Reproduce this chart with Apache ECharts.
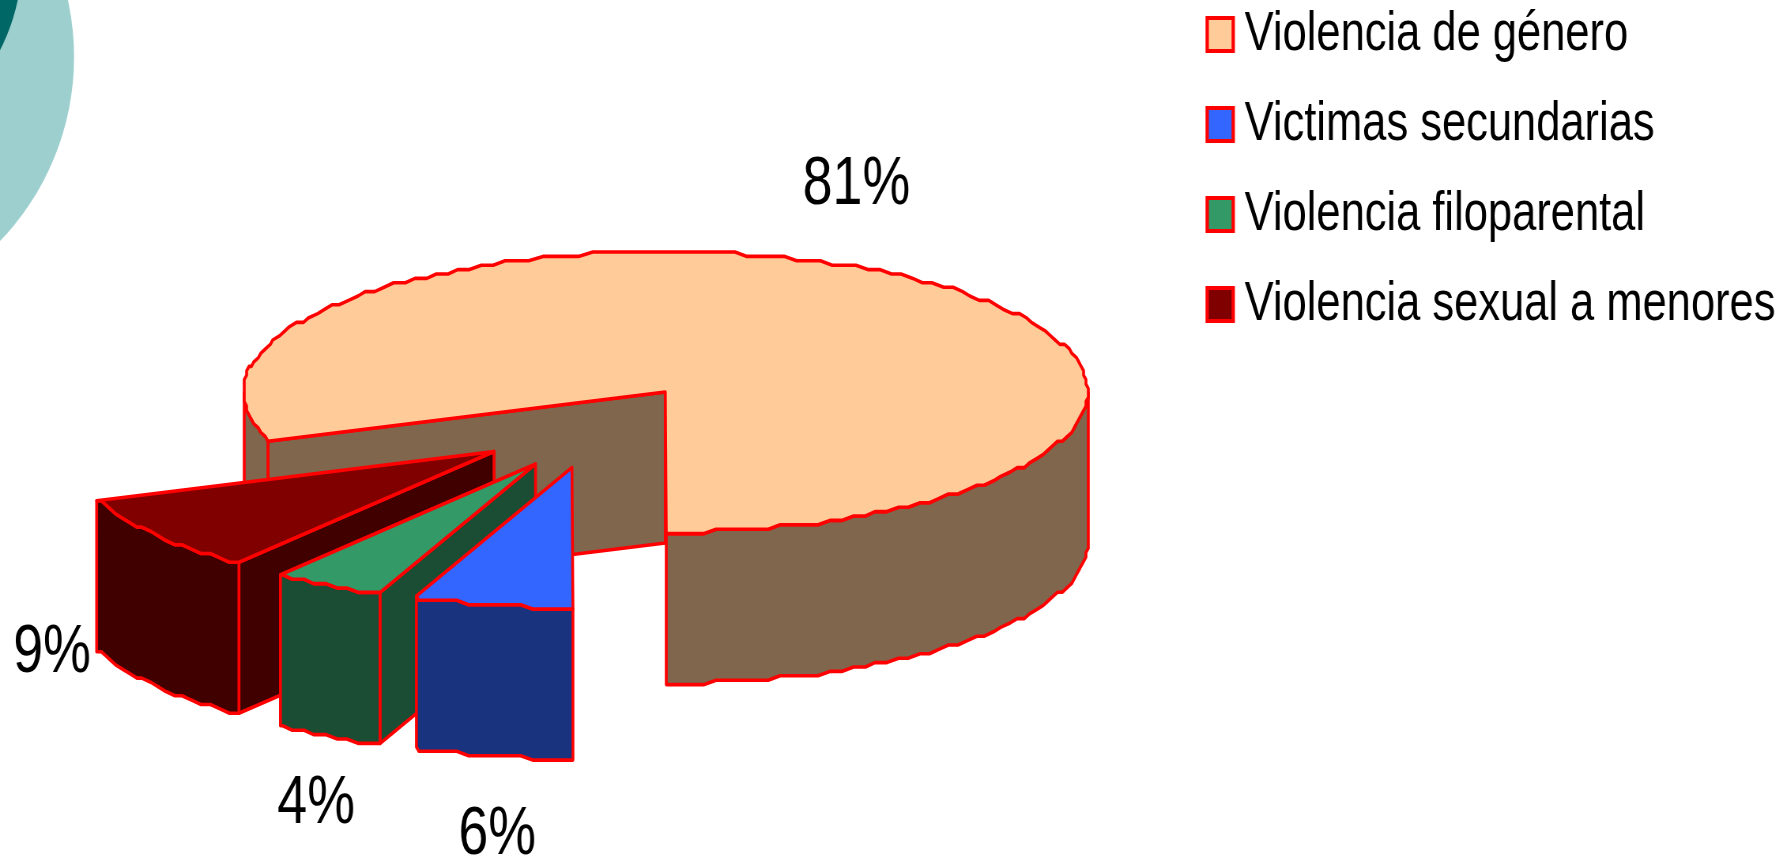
<!DOCTYPE html>
<html>
<head>
<meta charset="utf-8">
<style>
html,body{margin:0;padding:0;background:#fff;overflow:hidden;width:1782px;height:858px}
#chart{height:858px;transform-origin:0 0}
</style>
<script src="https://cdn.jsdelivr.net/npm/echarts@6/dist/echarts.min.js"></script>
</head>
<body>
<div id="chart"></div>
<script>
// ---- data ----
const categories = ['Violencia de género', 'Victimas secundarias', 'Violencia filoparental', 'Violencia sexual a menores'];
const values = [80.5, 6.05, 4.25, 9.2];
const labels = ['81%', '6%', '4%', '9%'];
const topColors = ['#FFCC99', '#3366FF', '#339966', '#800000'];
const sideColors = ['#80664C', '#19337F', '#1A4D33', '#400000'];

// ---- layout: the picture is horizontally condensed as a whole, like the reference ----
const sx = 0.79;
const X = v => v / sx;
const center = [X(665), 392], rx = X(422), ry = 140, depth = 151;
const explode = [[0, 0], [X(-93.3), 75.5], [X(-129.7), 72], [X(-171.2), 59.5]];
const labelPos = [[X(856), 185.5], [X(497), 835.5], [X(316), 804.5], [X(52), 653.5]];
const seriesZ = [2, 5, 4, 3];
const lastAngle = 180;              // clockwise from 12 o'clock, where the first slice ends
const edge = '#FF0000', edgeW = 3.6, fontFam = '"Liberation Sans",Arial,sans-serif';
const sampleStep = 0.0307, gridX = 3, gridY = 4.4;

document.getElementById('chart').style.width = X(1782) + 'px';
document.getElementById('chart').style.transform = 'scaleX(' + sx + ')';

const total = values.reduce((a, b) => a + b, 0);
const D = Math.PI / 180;
const angles = [];
{
  let a = lastAngle + 360 - values[0] / total * 360;
  values.forEach(v => { const b = a + v / total * 360; angles.push([a, b]); a = b; });
}
const proj = (deg) => {
  const t = deg * D;
  const x = center[0] + rx * Math.sin(t), y = center[1] - ry * Math.cos(t);
  const top = center[1] - ry;
  return [Math.round(x / gridX) * gridX, top + Math.round((y - top) / gridY) * gridY];
};
const arc = (a, b) => {
  const pts = [proj(a)], s = sampleStep / D;
  for (let k = Math.ceil(a / s + 1e-6); k * s < b - 1e-6; k++) pts.push(proj(k * s));
  pts.push(proj(b));
  return pts;
};
const shift = (pts, dx, dy) => pts.map(p => [p[0] + dx, p[1] + dy]);

function poly(points, fill) {
  return { type: 'polygon', silent: true, shape: { points },
    style: { fill, stroke: edge, lineWidth: edgeW, lineJoin: 'round' } };
}

function renderSlice(params) {
  const i = params.seriesIndex, [a, b] = angles[i], [ox, oy] = explode[i];
  const c = [center[0] + ox, center[1] + oy];
  const kids = [];
  const wall = (deg) => {
    const p = shift([proj(deg)], ox, oy)[0];
    kids.push(poly([c, p, [p[0], p[1] + depth], [c[0], c[1] + depth]], sideColors[i]));
  };
  if (Math.sin(a * D) < -1e-6) wall(a);
  if (Math.sin(b * D) > 1e-6) wall(b);
  [[90, 270], [450, 630]].forEach(([f, t]) => {
    const s = Math.max(a, f), e = Math.min(b, t);
    if (e - s > 1e-6) {
      const up = shift(arc(s, e), ox, oy);
      kids.push(poly(up.concat(shift(up, 0, depth).reverse()), sideColors[i]));
    }
  });
  kids.push(poly([c].concat(shift(arc(a, b), ox, oy)), topColors[i]));
  kids.push({ type: 'text', silent: true, style: {
    text: labels[i], x: labelPos[i][0], y: labelPos[i][1],
    fill: '#000', font: '68px ' + fontFam, align: 'center', verticalAlign: 'middle' } });
  return { type: 'group', children: kids };
}

const chart = echarts.init(document.getElementById('chart'), null, { renderer: 'canvas', width: X(1782), height: 858 });
chart.setOption({
  animation: false,
  backgroundColor: '#fff',
  graphic: [
    { type: 'circle', silent: true, z: 0, shape: { cx: 0, cy: 0, r: 266 }, x: X(-192), y: 57, scaleX: 1 / sx, style: { fill: '#9DCFCF' } },
    { type: 'circle', silent: true, z: 1, shape: { cx: 0, cy: 0, r: 200 }, x: X(-178), y: -41, scaleX: 1 / sx, style: { fill: '#006666' } }
  ],
  legend: {
    orient: 'vertical', left: X(1205), top: 3, padding: 0,
    icon: 'rect', itemWidth: X(26), itemHeight: 33, itemGap: 27,
    itemStyle: { borderColor: edge, borderWidth: 4.2 },
    selectedMode: false,
    data: categories,
    textStyle: { color: '#000', fontFamily: fontFam, fontSize: 55, lineHeight: 55, padding: [8, 0, 0, 9.5] }
  },
  series: categories.map((name, i) => ({
    type: 'custom', name, coordinateSystem: 'none', z: seriesZ[i],
    itemStyle: { color: topColors[i] }, silent: true,
    data: [[values[i]]], renderItem: renderSlice
  }))
});
</script>
</body>
</html>
